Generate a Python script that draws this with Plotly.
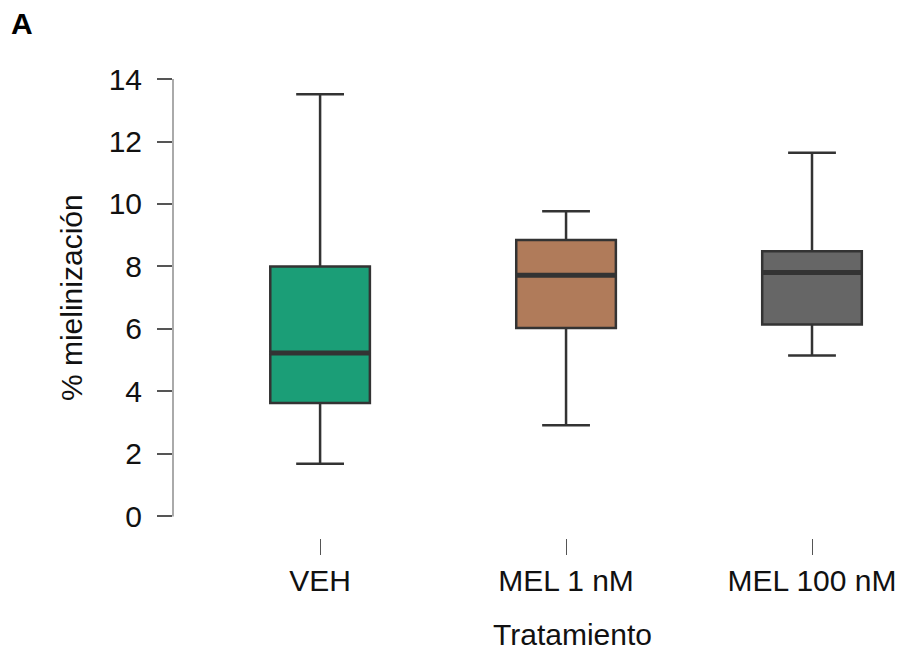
import plotly.graph_objects as go

categories = ["VEH", "MEL 1 nM", "MEL 100 nM"]
lower_whisker = [1.69, 2.92, 5.15]
q1_values = [3.63, 6.03, 6.14]
medians = [5.23, 7.72, 7.81]
q3_values = [8.00, 8.85, 8.49]
upper_whisker = [13.51, 9.77, 11.64]
fill_colors = ["#1b9e77", "#b07b5a", "#666666"]
y_ticks = [0, 2, 4, 6, 8, 10, 12, 14]

FONT = "Liberation Sans, Arial, Helvetica, sans-serif"
BOX_W = 0.405
positions = list(range(len(categories)))

fig = go.Figure()
for i, cat in enumerate(categories):
    fig.add_trace(go.Box(
        x=[positions[i]], q1=[q1_values[i]], median=[medians[i]], q3=[q3_values[i]],
        lowerfence=[lower_whisker[i]], upperfence=[upper_whisker[i]],
        name=cat, fillcolor=fill_colors[i], line=dict(color="#333333", width=2.5),
        width=BOX_W, whiskerwidth=0.48, boxpoints=False, showlegend=False,
        hoverinfo="skip",
    ))
    fig.add_trace(go.Scatter(
        x=[positions[i] - BOX_W / 2, positions[i] + BOX_W / 2], y=[medians[i], medians[i]],
        mode="lines", line=dict(color="#333333", width=5), showlegend=False, hoverinfo="skip",
    ))

fig.update_layout(
    width=904, height=652,
    margin=dict(l=173, r=0, t=79, b=114),
    paper_bgcolor="white", plot_bgcolor="white",
    font=dict(family=FONT, size=30, color="#111111"),
    xaxis=dict(
        range=[-0.598, 2.374], tickvals=positions, ticktext=categories,
        ticks="outside", ticklen=16, tickwidth=1.2, tickcolor="#555555",
        showline=False, showgrid=False, zeroline=False, ticklabelstandoff=0,
        tickfont=dict(size=30, family=FONT, color="#111111"),
    ),
    yaxis=dict(
        range=[-0.689, 14], tickvals=y_ticks, ticks="outside", ticklen=15,
        tickwidth=1.5, tickcolor="#555555", showline=False, showgrid=False,
        zeroline=False, ticklabelstandoff=9,
        tickfont=dict(size=30, family=FONT, color="#111111"),
    ),
    shapes=[dict(type="line", xref="paper", yref="y", x0=0, x1=0, y0=0, y1=14,
                 line=dict(color="#aaaaaa", width=2), layer="below")],
    annotations=[
        dict(text="<b>A</b>", xref="paper", yref="paper", x=-0.207, y=1.12,
             showarrow=False, font=dict(size=30, family=FONT, color="#000000"),
             xanchor="center", yanchor="middle"),
        dict(text="% mielinización", xref="paper", yref="paper", x=-0.138, y=0.523,
             textangle=-90, showarrow=False, font=dict(size=30, family=FONT, color="#111111"),
             xanchor="center", yanchor="middle"),
        dict(text="Tratamiento", xref="paper", yref="paper", x=0.546, y=-0.211,
             showarrow=False, font=dict(size=30, family=FONT, color="#111111"),
             xanchor="center", yanchor="middle"),
    ],
)

fig.write_html("out.html")
